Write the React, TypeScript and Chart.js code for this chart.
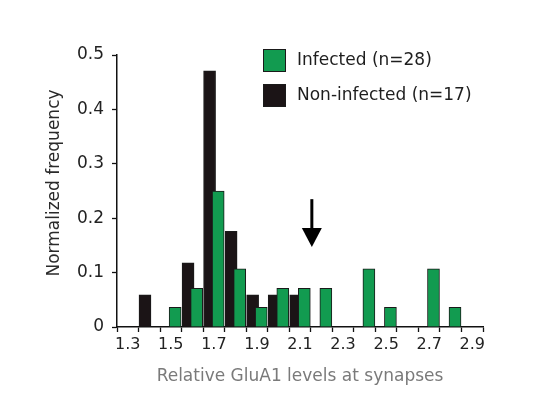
import React, { useEffect, useRef } from 'react';
import { Chart, registerables } from 'chart.js';

Chart.register(...registerables);

// ---- data ----
const infectedBins = [1.5, 1.6, 1.7, 1.8, 1.9, 2.0, 2.1, 2.2, 2.4, 2.5, 2.7, 2.8];
const infectedFreq = [0.036, 0.071, 0.25, 0.107, 0.036, 0.071, 0.071, 0.071, 0.107, 0.036, 0.107, 0.036];
const nonInfectedBins = [1.4, 1.6, 1.7, 1.8, 1.9, 2.0, 2.1];
const nonInfectedFreq = [0.059, 0.118, 0.471, 0.176, 0.059, 0.059, 0.059];
const seriesLabels = ['Infected (n=28)', 'Non-infected (n=17)'];
const xTickLabels = ['1.3', '1.5', '1.7', '1.9', '2.1', '2.3', '2.5', '2.7', '2.9'];
const yTickValues = [0, 0.1, 0.2, 0.3, 0.4, 0.5];
const xTitle = 'Relative GluA1 levels at synapses';
const yTitle = 'Normalized frequency';
const arrowValue = 2.155;
const arrowFrom = 0.235;
const arrowTo = 0.147;

// ---- layout / style ----
const X_MIN = 1.25;
const X_MAX = 2.95;
const BIN = 0.1;
const PAIR_OFFSET = 0.02;
const GREEN = '#129b50';
const BLACK = '#1b1416';
const EDGE = '#1a1a1a';
const FONT = 'DejaVu Sans';

const overlayPlugin = {
  id: 'overlay',
  afterDatasetsDraw(chart: any) {
    const { ctx, scales } = chart;
    const x = scales.x.getPixelForValue(arrowValue);
    const y1 = scales.y.getPixelForValue(arrowFrom);
    const y2 = scales.y.getPixelForValue(arrowTo);
    const headLen = 19;
    const headHalf = 10;
    ctx.save();
    ctx.strokeStyle = '#000';
    ctx.fillStyle = '#000';
    ctx.lineWidth = 3;
    ctx.beginPath();
    ctx.moveTo(x, y1);
    ctx.lineTo(x, y2 - headLen + 2);
    ctx.stroke();
    ctx.beginPath();
    ctx.moveTo(x - headHalf, y2 - headLen);
    ctx.lineTo(x + headHalf, y2 - headLen);
    ctx.lineTo(x, y2);
    ctx.closePath();
    ctx.fill();
    ctx.restore();
  },
  afterDraw(chart: any) {
    const { ctx, chartArea } = chart;
    ctx.save();
    // legend
    const colors = [GREEN, BLACK];
    const bx = 263;
    const rows = [49, 84];
    ctx.font = `17px "${FONT}"`;
    ctx.textBaseline = 'middle';
    ctx.textAlign = 'left';
    seriesLabels.forEach((label, i) => {
      ctx.fillStyle = colors[i];
      ctx.fillRect(bx, rows[i], 23, 23);
      ctx.strokeStyle = EDGE;
      ctx.lineWidth = 1;
      ctx.strokeRect(bx + 0.5, rows[i] + 0.5, 22, 22);
      ctx.fillStyle = '#1e1e1e';
      ctx.fillText(label, bx + 34, rows[i] + 12);
    });
    // y title
    ctx.translate(55, (chartArea.top + chartArea.bottom) / 2 - 8);
    ctx.rotate(-Math.PI / 2);
    ctx.textAlign = 'center';
    ctx.fillStyle = '#2a2a2a';
    ctx.font = `17px "${FONT}"`;
    ctx.fillText(yTitle, 0, 0);
    ctx.restore();
  },
};

export default function App() {
  const canvasRef = useRef<HTMLCanvasElement | null>(null);

  useEffect(() => {
    document.body.style.margin = '0';
    const canvas = canvasRef.current;
    if (!canvas) return;
    Chart.defaults.font.family = FONT;

    const chart = new Chart(canvas, {
      type: 'bar',
      data: {
        datasets: [
          {
            label: seriesLabels[0],
            data: infectedBins.map((b, i) => ({ x: b + PAIR_OFFSET, y: infectedFreq[i] })),
            backgroundColor: GREEN,
            borderColor: EDGE,
            borderWidth: 1,
            barThickness: 12,
            grouped: false,
          },
          {
            label: seriesLabels[1],
            data: nonInfectedBins.map((b, i) => ({ x: b - PAIR_OFFSET, y: nonInfectedFreq[i] })),
            backgroundColor: BLACK,
            borderColor: EDGE,
            borderWidth: 1,
            barThickness: 12,
            grouped: false,
          },
        ],
      } as any,
      options: {
        animation: false,
        responsive: false,
        maintainAspectRatio: false,
        layout: { padding: { left: 0, top: 55, right: 51, bottom: 0 } },
        plugins: { legend: { display: false }, tooltip: { enabled: false } },
        scales: {
          x: {
            type: 'linear',
            offset: false,
            min: X_MIN,
            max: X_MAX,
            afterBuildTicks: (scale: any) => {
              const n = Math.round((X_MAX - X_MIN) / (BIN / 2));
              scale.ticks = Array.from({ length: n + 1 }, (_, i) => ({
                value: Math.round((X_MIN + (i * BIN) / 2) * 100) / 100,
              }));
            },
            afterFit: (scale: any) => {
              scale.height = 72;
            },
            ticks: {
              autoSkip: false,
              maxRotation: 0,
              minRotation: 0,
              padding: 3,
              color: '#222',
              font: { size: 16, family: FONT },
              callback: (value: any, index: number) => {
                const s = Number(value).toFixed(1);
                return index % 2 === 1 && xTickLabels.includes(s) ? s : '';
              },
            },
            grid: {
              offset: false,
              drawOnChartArea: false,
              drawTicks: true,
              tickLength: 5,
              tickWidth: 1.3,
              tickColor: (ctx: any) => (ctx.index % 2 === 0 ? '#111' : 'rgba(0,0,0,0)'),
            },
            border: { display: true, color: '#111', width: 1.5 },
            title: {
              display: true,
              text: xTitle,
              color: '#7a7a7a',
              font: { size: 17, family: FONT },
              padding: { top: 0, bottom: 12 },
            },
          },
          y: {
            type: 'linear',
            min: 0,
            max: 0.5,
            afterBuildTicks: (scale: any) => {
              scale.ticks = yTickValues.map((v) => ({ value: v }));
            },
            afterFit: (scale: any) => {
              scale.width = 117;
            },
            ticks: {
              padding: 8,
              color: '#222',
              font: { size: 17, family: FONT },
              callback: (value: any) => (Number(value) === 0 ? '0' : Number(value).toFixed(1)),
            },
            grid: {
              drawOnChartArea: false,
              drawTicks: true,
              tickLength: 5,
              tickWidth: 1.3,
              tickColor: '#111',
            },
            border: { display: true, color: '#111', width: 1.5 },
          },
        },
      } as any,
      plugins: [overlayPlugin],
    });

    return () => chart.destroy();
  }, []);

  return (
    <div style={{ position: 'absolute', left: 0, top: 0, width: 534, height: 399, background: '#fff' }}>
      <canvas ref={canvasRef} width={534} height={399} />
    </div>
  );
}
